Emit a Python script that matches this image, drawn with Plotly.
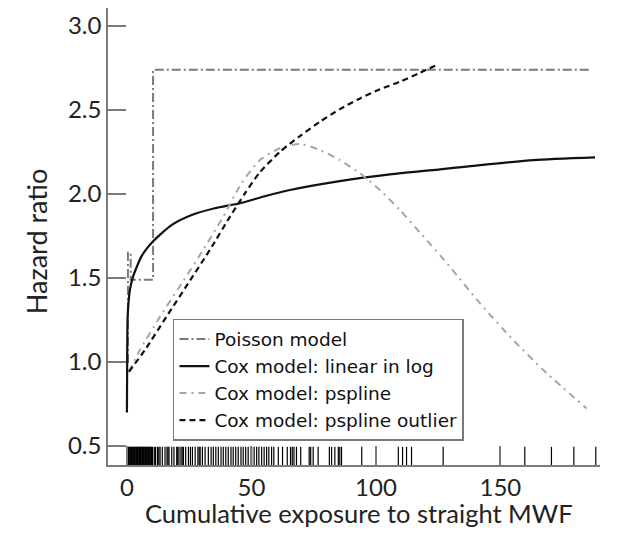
import plotly.graph_objects as go

# ---------------- data ----------------
poisson_x = [0, 0.4, 1.5, 10.5, 186]
poisson_y = [1.0, 1.65, 1.49, 2.74, 2.74]

cox_log_x = [0.0, 0.1, 0.3, 1.2, 2.5, 5.9, 10.6, 17.9, 26.0, 35.3, 45.4, 55.0, 65.5, 85.5, 105.6, 125.7, 136.4, 163.2, 188.0]
cox_log_y = [0.70, 1.00, 1.27, 1.43, 1.51, 1.63, 1.72, 1.815, 1.875, 1.915, 1.945, 1.985, 2.024, 2.077, 2.117, 2.147, 2.163, 2.202, 2.218]

pspline_x = [0.8, 5.2, 13.3, 22.0, 30.6, 38.7, 46.0, 53.4, 61.4, 69.5, 77.5, 85.5, 93.6, 101.6, 109.6, 117.7, 129.7, 141.8, 155.1, 168.6, 184.6]
pspline_y = [0.942, 1.071, 1.27, 1.468, 1.667, 1.865, 2.064, 2.202, 2.272, 2.298, 2.262, 2.202, 2.123, 2.024, 1.905, 1.771, 1.567, 1.349, 1.131, 0.933, 0.724]

outlier_x = [0.8, 7.2, 15.9, 24.6, 33.3, 41.4, 47.4, 53.4, 61.4, 69.5, 77.5, 85.5, 93.6, 101.6, 109.6, 117.7, 125.0]
outlier_y = [0.942, 1.071, 1.27, 1.468, 1.667, 1.865, 2.004, 2.13, 2.25, 2.345, 2.43, 2.505, 2.569, 2.623, 2.668, 2.722, 2.772]

rug_x = [0.3, 0.6, 0.9, 1.2, 1.5, 1.8, 2.1, 2.4, 2.7, 3.0, 3.3, 3.6, 3.9, 4.2, 4.5, 4.8,
         5.1, 5.4, 5.7, 6.0, 6.3, 6.6, 6.9, 7.2, 7.5, 7.8, 8.1, 8.4, 8.7, 9.0, 9.3, 9.6, 9.9, 10.3,
         11.0, 11.5, 12.3, 12.8, 13.3, 14.2, 15.3, 16.1, 16.5, 16.9, 18.0, 18.9, 20.0, 20.4,
         20.9, 21.7, 22.2, 22.7, 23.6, 24.7, 25.5, 26.3, 27.4, 28.5, 29.0, 29.4, 30.3, 31.4,
         32.7, 33.8, 34.7, 35.7, 36.7, 37.8, 38.7, 39.7, 40.7, 41.8, 42.7, 43.7, 44.7, 45.8,
         46.7, 47.7, 48.7, 50.1, 51.1, 52.1, 53.0, 54.1, 55.1, 56.1, 57.0, 58.1, 59.0, 60.8,
         62.5, 64.4, 65.7, 66.4, 67.1, 68.1, 69.8, 73.2, 73.8, 74.8, 76.8, 81.3, 82.2, 83.5,
         84.9, 85.5, 86.2, 94.3, 109.0, 110.7, 112.3, 114.3, 127.0, 159.8, 170.5, 179.5, 188.3]

x_ticks = [0, 50, 100, 150]
y_ticks = [0.5, 1.0, 1.5, 2.0, 2.5, 3.0]
y_tick_text = ["0.5", "1.0", "1.5", "2.0", "2.5", "3.0"]

FONT = "Lato"
LEG_FONT = "DejaVu Sans"
AX = "#7a7a7a"
TXT = "#222222"

fig = go.Figure()

fig.add_trace(go.Scatter(
    x=poisson_x, y=poisson_y, mode="lines", name="Poisson model",
    line=dict(color="#7a7a7a", width=2, shape="hv", dash="9px,3px,2px,3px"),
))
fig.add_trace(go.Scatter(
    x=cox_log_x, y=cox_log_y, mode="lines", name="Cox model: linear in log",
    line=dict(color="#111111", width=2.2, shape="spline", smoothing=0.6),
))
fig.add_trace(go.Scatter(
    x=pspline_x, y=pspline_y, mode="lines", name="Cox model: pspline",
    line=dict(color="#a6a6a6", width=2, shape="spline", smoothing=0.6, dash="7px,5px,2px,5px"),
))
fig.add_trace(go.Scatter(
    x=outlier_x, y=outlier_y, mode="lines", name="Cox model: pspline outlier",
    line=dict(color="#111111", width=2.2, shape="spline", smoothing=0.6, dash="6px,4px"),
))
fig.add_trace(go.Scatter(
    x=rug_x, y=[0] * len(rug_x), mode="markers", yaxis="y2", showlegend=False,
    marker=dict(symbol="line-ns", size=26, line=dict(color="#000000", width=1.2)),
    hoverinfo="skip",
))

# The page adds an 8px body margin, so the figure is 8px smaller and shifted.
fig.update_layout(
    template="none",
    width=613, height=529,
    margin=dict(l=100, r=21, t=0, b=72, autoexpand=False),
    paper_bgcolor="white", plot_bgcolor="white",
    font=dict(family=FONT, color=TXT),
    showlegend=True,
    legend=dict(
        x=0.132, y=0.3195, xanchor="left", yanchor="top",
        bordercolor=AX, borderwidth=1.5, bgcolor="white",
        font=dict(family=LEG_FONT, size=18.5, color="#111111"),
        itemwidth=30, tracegroupgap=0,
    ),
    xaxis=dict(
        range=[-7.6, 190], tickvals=x_ticks, ticks="inside", ticklen=19,
        tickcolor=AX, tickwidth=1.5, automargin=False,
        showline=True, linecolor=AX, linewidth=1.5,
        showgrid=False, zeroline=False,
        tickfont=dict(family=FONT, size=24, color=TXT),
    ),
    yaxis=dict(
        range=[0.387, 3.107], tickvals=y_ticks, ticktext=y_tick_text,
        ticks="inside", ticklen=18, tickcolor=AX, tickwidth=1.5, automargin=False,
        showline=True, linecolor=AX, linewidth=1.5,
        showgrid=False, zeroline=False,
        tickfont=dict(family=FONT, size=24, color=TXT),
    ),
    yaxis2=dict(range=[0, 1], overlaying="y", visible=False, fixedrange=True),
    annotations=[
        dict(text="Cumulative exposure to straight MWF", xref="paper", yref="paper",
             x=0.51, y=-0.106, xanchor="center", yanchor="middle", showarrow=False,
             font=dict(family=FONT, size=25.5, color=TXT)),
        dict(text="Hazard ratio", xref="paper", yref="paper",
             x=-0.144, y=0.488, xanchor="center", yanchor="middle", showarrow=False,
             textangle=-90, font=dict(family=FONT, size=27, color=TXT)),
    ],
)

fig.write_html("out.html")
